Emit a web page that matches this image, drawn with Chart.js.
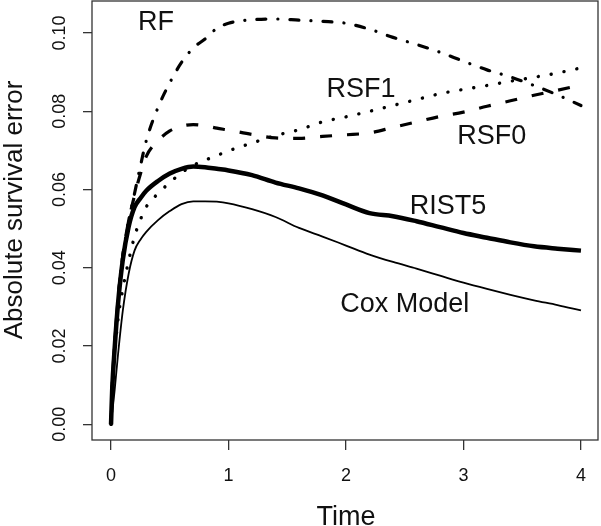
<!DOCTYPE html>
<html>
<head>
<meta charset="utf-8">
<script src="https://cdn.jsdelivr.net/npm/chart.js@4.4.1/dist/chart.umd.min.js"></script>
<style>
  html, body { margin: 0; padding: 0; background: #fff; }
  canvas { display: block; }
</style>
</head>
<body>
<canvas id="myChart" width="601" height="526"></canvas>
<script>
'use strict';

// time grid shared by every curve
const times = [0, 0.01, 0.03, 0.06, 0.1, 0.15, 0.2, 0.25, 0.3, 0.4, 0.5, 0.6, 0.7, 0.8, 0.9, 1.0,
  1.2, 1.4, 1.6, 1.8, 2.0, 2.2, 2.4, 2.6, 2.8, 3.0, 3.2, 3.4, 3.6, 3.8, 4.0];

const cox = [0, 0.003, 0.0085, 0.018, 0.029, 0.0385, 0.0444, 0.0472, 0.0492, 0.0522, 0.0545, 0.0563, 0.057, 0.057, 0.0569, 0.0565,
  0.055, 0.053, 0.0502, 0.048, 0.0457, 0.0434, 0.0415, 0.0398, 0.038, 0.0362, 0.0346, 0.0331, 0.0317, 0.0305, 0.0291];
const rist5 = [0, 0.009, 0.019, 0.031, 0.042, 0.0505, 0.0555, 0.0578, 0.0597, 0.0622, 0.0641, 0.0653, 0.0659, 0.0657, 0.0653, 0.0649,
  0.0637, 0.0618, 0.0603, 0.0585, 0.0562, 0.054, 0.0532, 0.0519, 0.0504, 0.0489, 0.0477, 0.0465, 0.0455, 0.0449, 0.0444];
const rsf1 = [0, 0.008, 0.017, 0.027, 0.0345, 0.0418, 0.048, 0.0523, 0.0556, 0.059, 0.0618, 0.0643, 0.0662, 0.0675, 0.0687, 0.0699,
  0.0719, 0.0738, 0.0753, 0.0773, 0.0786, 0.08, 0.0815, 0.083, 0.0845, 0.0856, 0.0866, 0.0877, 0.0887, 0.0898, 0.0911];
const rsf0 = [0, 0.01, 0.02, 0.032, 0.043, 0.052, 0.0585, 0.064, 0.0685, 0.0725, 0.075, 0.0762, 0.0766, 0.0763, 0.0757, 0.0752,
  0.0741, 0.0732, 0.0731, 0.0736, 0.074, 0.0745, 0.0759, 0.0773, 0.0787, 0.0798, 0.0813, 0.0827, 0.0841, 0.0854, 0.0867];
const rf = [0, 0.01, 0.02, 0.032, 0.043, 0.052, 0.059, 0.066, 0.0725, 0.081, 0.0873, 0.0925, 0.0962, 0.0985, 0.1012, 0.1025,
  0.1034, 0.1036, 0.1033, 0.103, 0.1025, 0.101, 0.0989, 0.0971, 0.0951, 0.0928, 0.0906, 0.0888, 0.0866, 0.0842, 0.0815];

const xTicks = [0, 1, 2, 3, 4];
const xTickLabels = ['0', '1', '2', '3', '4'];
const yTicks = [0, 0.02, 0.04, 0.06, 0.08, 0.10];
const yTickLabels = ['0.00', '0.02', '0.04', '0.06', '0.08', '0.10'];

// curve labels placed in data units (time, error at text baseline)
const labelNames = ['RF', 'RSF1', 'RSF0', 'RIST5', 'Cox Model'];
const labelTimes = [0.383, 2.128, 3.24, 2.868, 2.5];
const labelValues = [0.1008, 0.0837, 0.0717, 0.0538, 0.0288];

const FONT = '"Liberation Sans", Arial, Helvetica, sans-serif';

function toPoints(arr) {
  return times.map((t, i) => ({ x: t, y: arr[i] }));
}

const rPlot = {
  id: 'rPlot',
  afterDraw(chart) {
    const ctx = chart.ctx;
    const a = chart.chartArea;
    const xs = chart.scales.x;
    const ys = chart.scales.y;
    ctx.save();
    // box
    ctx.strokeStyle = '#333';
    ctx.lineWidth = 1.3;
    ctx.strokeRect(a.left, a.top, a.right - a.left, a.bottom - a.top);

    ctx.fillStyle = '#111';
    ctx.textAlign = 'center';
    ctx.textBaseline = 'alphabetic';
    // tick labels, y ones vertical like R
    ctx.font = '18px ' + FONT;
    for (let i = 0; i < xTicks.length; i++) {
      ctx.fillText(xTickLabels[i], xs.getPixelForValue(xTicks[i]), 481);
    }
    for (let i = 0; i < yTicks.length; i++) {
      const py = ys.getPixelForValue(yTicks[i]);
      ctx.save();
      ctx.translate(65, py);
      ctx.rotate(-Math.PI / 2);
      ctx.fillText(yTickLabels[i], 0, 0);
      ctx.restore();
    }
    // axis titles
    ctx.font = '26px ' + FONT;
    ctx.save();
    ctx.translate(21.5, 210);
    ctx.rotate(-Math.PI / 2);
    ctx.fillText('Absolute survival error', 0, 0);
    ctx.restore();
    ctx.font = '27px ' + FONT;
    ctx.fillText('Time', xs.getPixelForValue(2), 525);

    // curve labels
    ctx.font = '27px ' + FONT;
    for (let i = 0; i < labelNames.length; i++) {
      ctx.fillText(labelNames[i], xs.getPixelForValue(labelTimes[i]), ys.getPixelForValue(labelValues[i]));
    }
    ctx.restore();
  }
};

const ctx = document.getElementById('myChart').getContext('2d');
const myChart = new Chart(ctx, {
  type: 'line',
  data: {
    datasets: [
      { label: 'Cox Model', data: toPoints(cox), borderColor: '#000', borderWidth: 1.8 },
      { label: 'RIST5', data: toPoints(rist5), borderColor: '#000', borderWidth: 4.5 },
      { label: 'RSF1', data: toPoints(rsf1), borderColor: '#000', borderWidth: 3.4,
        borderDash: [0.1, 13], borderCapStyle: 'round' },
      { label: 'RSF0', data: toPoints(rsf0), borderColor: '#000', borderWidth: 3.2,
        borderDash: [12, 15] },
      { label: 'RF', data: toPoints(rf), borderColor: '#000', borderWidth: 3.2,
        borderDash: [9, 12, 0.1, 12], borderCapStyle: 'round' }
    ]
  },
  options: {
    responsive: false,
    animation: false,
    devicePixelRatio: 1,
    layout: { padding: { top: 1, right: 3, left: 0, bottom: 0 } },
    elements: {
      point: { radius: 0 },
      line: { cubicInterpolationMode: 'monotone', fill: false }
    },
    plugins: { legend: { display: false }, tooltip: { enabled: false } },
    scales: {
      x: {
        type: 'linear',
        min: -0.162,
        max: 4.145,
        afterFit: s => { s.height = 86; },
        afterBuildTicks: s => { s.ticks = xTicks.map(v => ({ value: v })); },
        border: { display: false },
        grid: { drawOnChartArea: false, drawTicks: true, tickLength: 10, color: '#333', lineWidth: 1.3 },
        ticks: { display: false }
      },
      y: {
        type: 'linear',
        min: -0.004,
        max: 0.1082,
        afterFit: s => { s.width = 92; },
        afterBuildTicks: s => { s.ticks = yTicks.map(v => ({ value: v })); },
        border: { display: false },
        grid: { drawOnChartArea: false, drawTicks: true, tickLength: 9, color: '#333', lineWidth: 1.3 },
        ticks: { display: false }
      }
    }
  },
  plugins: [rPlot]
});
</script>
</body>
</html>
